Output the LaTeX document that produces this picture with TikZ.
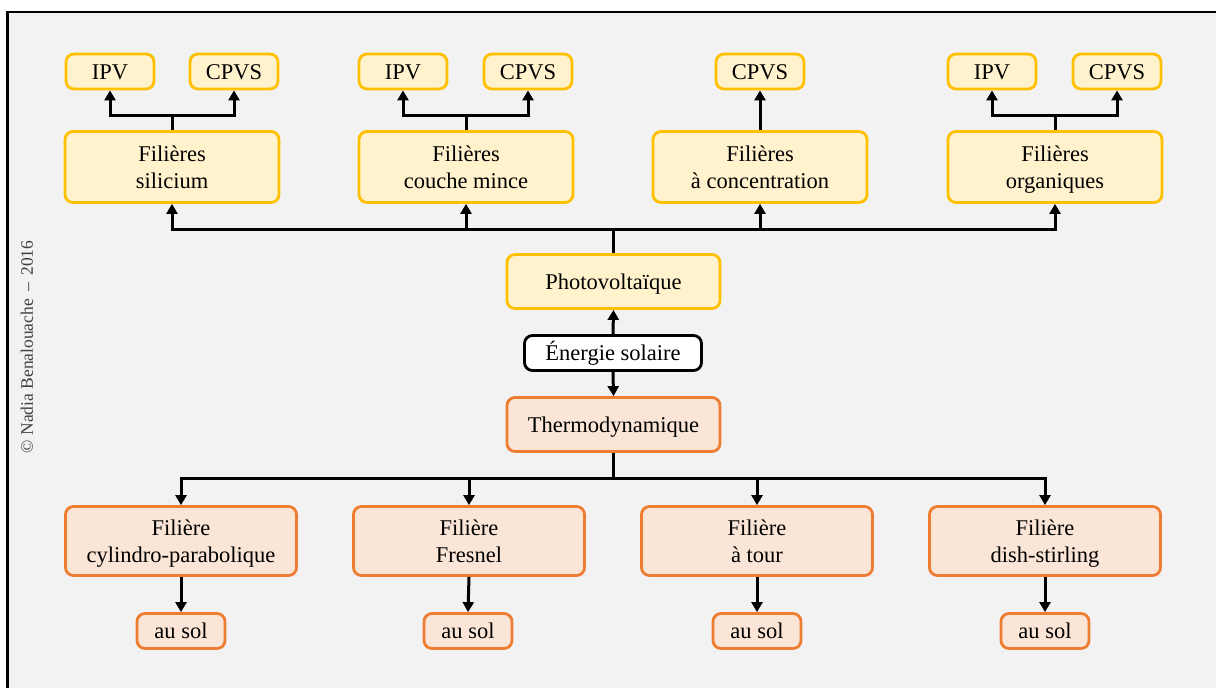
\documentclass[tikz,border=0pt]{standalone}
\usepackage{fontspec}
\setmainfont{Liberation Serif}
\usetikzlibrary{arrows.meta}
\definecolor{bggray}{RGB}{242,242,242}
\definecolor{ygold}{RGB}{255,192,0}
\definecolor{yfill}{RGB}{255,242,204}
\definecolor{oline}{RGB}{237,125,49}
\definecolor{ofill}{RGB}{251,229,214}
\newcommand{\ms}{\vrule height 20pt depth 5pt width 0pt}
\newcommand{\tl}[2]{#1\ms\\#2\ms}
\tikzset{
  boxbase/.style={rounded corners=8pt, line width=2.8pt, align=center, inner sep=0pt,
    font=\fontsize{22.5}{27}\selectfont},
  ybox/.style={boxbase, draw=ygold, fill=yfill},
  obox/.style={boxbase, draw=oline, fill=ofill},
  wbox/.style={boxbase, draw=black, fill=white},
  smallbox/.style={minimum width=88pt, minimum height=35pt},
  filbox/.style={minimum width=214pt, minimum height=71pt},
  midbox/.style={minimum width=213pt, minimum height=54pt},
  botbox/.style={minimum width=231pt, minimum height=69pt},
  arr/.style={line width=3pt, -{Triangle[length=10pt,width=11pt]}},
  ln/.style={line width=3pt}
}
\begin{document}
\begin{tikzpicture}[x=1pt,y=-1pt]
\useasboundingbox (0,0) rectangle (1216,688);
\fill[white] (0,0) rectangle (1216,688);
\fill[bggray] (7.5,12) rectangle (1216,688);
\draw[line width=2.5pt, line cap=rect] (7.5,688) -- (7.5,12) -- (1216,12);
\node[rotate=90, font=\fontsize{17.5}{20}\selectfont, text=black!75] (copy) at (27,347) {\textcopyright{} Nadia Benalouache \,–\, 2016};

% top small boxes
\node[ybox, smallbox] (ipv1) at (110,71.5) {IPV\ms};
\node[ybox, smallbox] (cpvs1) at (234,71.5) {CPVS\ms};
\node[ybox, smallbox] (ipv2) at (403,71.5) {IPV\ms};
\node[ybox, smallbox] (cpvs2) at (528,71.5) {CPVS\ms};
\node[ybox, smallbox] (cpvs3) at (760,71.5) {CPVS\ms};
\node[ybox, smallbox] (ipv4) at (992,71.5) {IPV\ms};
\node[ybox, smallbox] (cpvs4) at (1117,71.5) {CPVS\ms};

% filieres PV
\node[ybox, filbox] (f1) at (172,167) {\tl{Filières}{silicium}};
\node[ybox, filbox] (f2) at (466,167) {\tl{Filières}{couche mince}};
\node[ybox, filbox] (f3) at (760,167) {\tl{Filières}{à concentration}};
\node[ybox, filbox] (f4) at (1055,167) {\tl{Filières}{organiques}};

% center
\node[ybox, midbox] (pv) at (613.5,281.5) {Photovoltaïque\ms};
\node[wbox, minimum width=177pt, minimum height=35pt] (en) at (613,353) {Énergie solaire\ms};
\node[obox, midbox] (th) at (613.5,424.5) {Thermodynamique\ms};

% bottom filieres
\node[obox, botbox] (b1) at (181,541) {\tl{Filière}{cylindro-parabolique}};
\node[obox, botbox] (b2) at (469,541) {\tl{Filière}{Fresnel}};
\node[obox, botbox] (b3) at (757,541) {\tl{Filière}{à tour}};
\node[obox, botbox] (b4) at (1045,541) {\tl{Filière}{dish-stirling}};

\node[obox, smallbox] (s1) at (181,631) {au sol\ms};
\node[obox, smallbox] (s2) at (468,631) {au sol\ms};
\node[obox, smallbox] (s3) at (757,631) {au sol\ms};
\node[obox, smallbox] (s4) at (1045,631) {au sol\ms};

% branch coordinates
\coordinate (j1) at (172,115);
\coordinate (j2) at (466,115);
\coordinate (j4) at (1055,115);
\coordinate (jt) at (613.5,229);
\coordinate (jb) at (613.5,478);

% connectors top
\draw[ln] (f1.north) -- (j1);
\draw[arr] (j1) -| (ipv1.south);
\draw[arr] (j1) -| (cpvs1.south);
\draw[ln] (f2.north) -- (j2);
\draw[arr] (j2) -| (ipv2.south);
\draw[arr] (j2) -| (cpvs2.south);
\draw[arr] (f3.north) -- (cpvs3.south);
\draw[ln] (f4.north) -- (j4);
\draw[arr] (j4) -| (ipv4.south);
\draw[arr] (j4) -| (cpvs4.south);

\draw[ln] (pv.north) -- (jt);
\draw[arr] (jt) -| (f1.south);
\draw[arr] (jt) -| (f2.south);
\draw[arr] (jt) -| (f3.south);
\draw[arr] (jt) -| (f4.south);

\draw[arr] (en.north) -- (pv.south);
\draw[arr] (en.south) -- (th.north);

\draw[ln] (th.south) -- (jb);
\draw[arr] (jb) -| (b1.north);
\draw[arr] (jb) -| (b2.north);
\draw[arr] (jb) -| (b3.north);
\draw[arr] (jb) -| (b4.north);

\draw[arr] (b1.south) -- (s1.north);
\draw[arr] (b2.south) -- (s2.north);
\draw[arr] (b3.south) -- (s3.north);
\draw[arr] (b4.south) -- (s4.north);
\end{tikzpicture}
\end{document}
